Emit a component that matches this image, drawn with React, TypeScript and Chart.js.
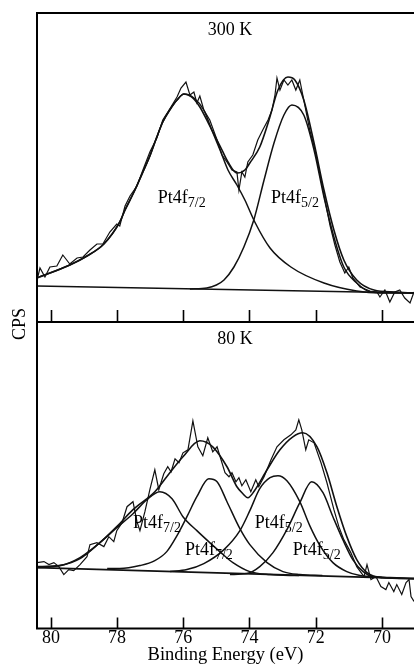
import React, { useEffect, useRef } from "react";
import { Chart, registerables } from "chart.js";

Chart.register(...registerables);

// ---------- axis ----------
const X_MIN = 69.03;
const X_MAX = 80.42;
const X_TICKS = [80, 78, 76, 74, 72, 70];

// ---------- 300 K panel ----------
const E_300_RAW = [80.42,80.33,80.18,80.03,79.82,79.64,79.43,79.21,79.03,78.82,78.61,78.43,78.22,78.01,77.92,77.76,77.61,77.40,77.22,77.01,76.80,76.62,76.41,76.19,76.07,75.92,75.80,75.68,75.59,75.50,75.38,75.20,74.98,74.83,74.68,74.53,74.38,74.32,74.23,74.14,74.05,73.90,73.75,73.60,73.44,73.32,73.23,73.17,73.08,72.96,72.84,72.72,72.60,72.48,72.33,72.18,72.02,71.87,71.72,71.57,71.42,71.27,71.12,71.00,70.88,70.66,70.36,70.15,70.06,69.91,69.76,69.61,69.46,69.31,69.15,69.03];
const CPS_300_RAW = [42,54,45,55,56,67,58,64,65,72,78,78,90,98,96,116,126,136,152,170,184,202,213,225,234,240,227,230,219,226,212,202,182,167,160,152,150,132,150,145,160,167,182,192,202,212,227,244,232,242,237,242,232,242,217,192,172,147,122,97,77,60,49,55,44,35,31,30,25,32,20,30,32,24,19,30];

const E_300_FIT = [80.42,79.43,78.91,78.40,77.92,77.76,77.49,77.22,77.01,76.80,76.62,76.41,76.19,75.98,75.75,75.50,75.20,74.89,74.65,74.38,74.14,73.99,73.69,73.41,73.14,72.84,72.63,72.36,72.05,71.75,71.45,71.15,70.76,70.24,69.60,69.03];
const CPS_300_FIT = [44,57,66,78,100,112,130,150,166,185,200,212,222,228,225,215,196,176,160,149,152,159,175,202,232,245,242,222,179,132,92,62,42,32,30,29];

const E_300_P72 = [80.42,79.43,78.91,78.40,77.92,77.76,77.49,77.22,77.01,76.80,76.62,76.41,76.19,75.98,75.68,75.38,75.14,74.89,74.65,74.38,74.14,73.84,73.38,72.75,71.75,70.76,70.06,69.03];
const CPS_300_P72 = [44,57,66,78,100,112,130,150,166,185,200,212,222,228,224,212,192,172,152,137,122,100,74,55,39,31,29,29];

const E_300_P52 = [75.8,75.29,75.0,74.77,74.47,74.17,73.87,73.56,73.26,72.96,72.72,72.36,72.05,71.75,71.45,71.15,70.76,70.33,69.9,69.03];
const CPS_300_P52 = [33,34,37,42,55,75,102,142,179,207,217,207,172,125,85,55,39,30,29.5,29];

const E_300_BASE = [80.42, 69.03];
const CPS_300_BASE = [36, 29];

// ---------- 80 K panel ----------
const E_80_RAW = [80.42,80.21,80.06,79.91,79.76,79.61,79.46,79.31,79.12,78.91,78.82,78.61,78.40,78.25,78.10,78.01,77.85,77.70,77.52,77.40,77.31,77.16,77.01,76.86,76.74,76.59,76.47,76.37,76.25,76.13,76.01,75.86,75.71,75.56,75.41,75.26,75.11,74.98,74.86,74.74,74.62,74.53,74.41,74.32,74.23,74.11,73.96,73.81,73.72,73.56,73.35,73.17,72.96,72.75,72.60,72.51,72.42,72.30,72.21,72.05,71.84,71.66,71.45,71.30,71.15,70.94,70.76,70.54,70.45,70.33,70.18,70.03,69.88,69.79,69.64,69.55,69.40,69.27,69.18,69.12,69.03];
const CPS_80_RAW = [66,67,64,66,62,54,59,58,64,72,84,86,82,92,87,98,106,122,127,107,98,117,139,159,139,155,162,157,170,166,176,179,208,182,173,191,177,182,169,156,152,156,147,151,143,149,137,149,142,152,169,182,189,194,199,209,199,179,189,186,166,146,119,102,89,76,62,52,64,49,52,42,39,46,37,44,34,46,49,32,27];

const E_80_FIT = [80.42,79.73,79.12,78.52,78.01,77.52,76.86,76.50,76.01,75.50,75.11,74.68,74.38,74.20,74.05,73.85,73.47,73.08,72.69,72.39,71.96,71.66,71.36,71.06,70.76,70.45,70.00,69.03];
const CPS_80_FIT = [62,63,71,86,102,119,137,152,172,188,182,162,142,135,131,138,159,179,192,196,182,156,122,92,69,56,51,50];

const E_80_P72A = [80.42,79.73,79.12,78.52,78.01,77.52,77.10,76.71,76.34,76.01,75.59,75.20,74.83,74.50,73.99,73.38,72.5];
const CPS_80_P72A = [61,63,70,86,101,115,129,137,130,112,98,86,75,66,57,54,53];

const E_80_P72B = [78.3,77.92,77.31,76.86,76.50,76.19,75.89,75.59,75.23,74.98,74.68,74.29,73.99,73.47,72.99,72.48,71.8];
const CPS_80_P72B = [60,60,63,68,77,93,112,132,150,147,127,100,84,66,57,54,53];

const E_80_P52A = [76.4,75.89,75.38,74.77,74.29,73.99,73.69,73.38,73.14,72.87,72.48,72.18,71.87,71.48,71.06,70.66,70.0];
const CPS_80_P52A = [57,59,65,79,98,118,140,151,153,148,127,103,83,66,57,53,51];

const E_80_P52B = [74.59,74.08,73.69,73.29,72.87,72.48,72.12,71.78,71.48,71.18,70.88,70.57,70.27,69.76,69.03];
const CPS_80_P52B = [54,55,62,76,99,126,147,136,112,89,69,57,52,51,50];

const E_80_BASE = [80.42, 69.03];
const CPS_80_BASE = [61, 50];

// ---------- annotations (data coordinates) ----------
const TOP_TITLE = { text: "300 K", x: 74.59, y: 292 };
const BOT_TITLE = { text: "80 K", x: 74.44, y: 290 };
const TOP_PEAK_LABELS = [
  { main: "Pt4f", sub: "7/2", x: 76.77, y: 119 },
  { main: "Pt4f", sub: "5/2", x: 73.35, y: 119 },
];
const BOT_PEAK_LABELS = [
  { main: "Pt4f", sub: "7/2", x: 77.52, y: 101 },
  { main: "Pt4f", sub: "7/2", x: 75.95, y: 74 },
  { main: "Pt4f", sub: "5/2", x: 73.84, y: 101 },
  { main: "Pt4f", sub: "5/2", x: 72.69, y: 74 },
];

const FONT = '"Liberation Serif", "Times New Roman", serif';
const INK = "#111";

const pts = (xs: number[], ys: number[]) => xs.map((x, i) => ({ x, y: ys[i] }));

const smooth = (xs: number[], ys: number[], w = 1.5) => ({
  data: pts(xs, ys),
  borderColor: INK,
  borderWidth: w,
  pointRadius: 0,
  cubicInterpolationMode: "monotone" as const,
  fill: false,
});
const jagged = (xs: number[], ys: number[]) => ({
  data: pts(xs, ys),
  borderColor: INK,
  borderWidth: 1.2,
  pointRadius: 0,
  tension: 0,
  fill: false,
});

function drawPeakLabel(ctx: CanvasRenderingContext2D, x: number, y: number, main: string, sub: string) {
  ctx.font = `18px ${FONT}`;
  ctx.textAlign = "left";
  ctx.textBaseline = "alphabetic";
  ctx.fillText(main, x, y);
  const w = ctx.measureText(main).width;
  ctx.font = `14px ${FONT}`;
  ctx.fillText(sub, x + w, y + 4);
}

function makeOverlay(opts: {
  top: boolean;
  tick: number;
  title: { text: string; x: number; y: number };
  labels: { main: string; sub: string; x: number; y: number }[];
  yId: string;
  cps: boolean;
}) {
  return {
    id: "overlay",
    afterDraw(chart: any) {
      const { ctx, chartArea: a, scales } = chart;
      const xs = scales.x;
      const ys = scales[opts.yId];
      ctx.save();
      ctx.strokeStyle = "#000";
      ctx.lineWidth = 2;
      ctx.beginPath();
      if (opts.top) {
        ctx.moveTo(a.left - 1, a.top);
        ctx.lineTo(a.right, a.top);
      }
      ctx.moveTo(a.left, a.top);
      ctx.lineTo(a.left, a.bottom + 1);
      ctx.moveTo(a.left - 1, a.bottom);
      ctx.lineTo(a.right, a.bottom);
      ctx.stroke();

      ctx.lineWidth = 1.6;
      ctx.beginPath();
      for (const t of X_TICKS) {
        const px = Math.round(xs.getPixelForValue(t)) + 0.5;
        ctx.moveTo(px, a.bottom);
        ctx.lineTo(px, a.bottom - opts.tick);
      }
      ctx.stroke();

      ctx.fillStyle = "#000";
      ctx.font = `18px ${FONT}`;
      ctx.textAlign = "center";
      ctx.textBaseline = "middle";
      ctx.fillText(opts.title.text, xs.getPixelForValue(opts.title.x), ys.getPixelForValue(opts.title.y));

      for (const l of opts.labels) {
        drawPeakLabel(ctx, xs.getPixelForValue(l.x), ys.getPixelForValue(l.y), l.main, l.sub);
      }

      if (opts.cps) {
        ctx.save();
        ctx.translate(a.left - 17, a.bottom + 2);
        ctx.rotate(-Math.PI / 2);
        ctx.font = `18px ${FONT}`;
        ctx.textAlign = "center";
        ctx.textBaseline = "middle";
        ctx.fillText("CPS", 0, 0);
        ctx.restore();
      }
      ctx.restore();
    },
  };
}

export default function App() {
  const topRef = useRef<HTMLCanvasElement | null>(null);
  const botRef = useRef<HTMLCanvasElement | null>(null);

  useEffect(() => {
    const topChart = new Chart(topRef.current as HTMLCanvasElement, {
      type: "line",
      data: {
        datasets: [
          { ...jagged(E_300_RAW, CPS_300_RAW), yAxisID: "y" },
          { ...smooth(E_300_FIT, CPS_300_FIT, 1.6), yAxisID: "y" },
          { ...smooth(E_300_P72, CPS_300_P72), yAxisID: "y" },
          { ...smooth(E_300_P52, CPS_300_P52), yAxisID: "y" },
          { ...smooth(E_300_BASE, CPS_300_BASE, 1.6), yAxisID: "y" },
        ],
      } as any,
      options: {
        responsive: false,
        animation: false,
        events: [],
        layout: { padding: { left: 37, top: 13, right: 0, bottom: 342 } },
        plugins: { legend: { display: false }, tooltip: { enabled: false } },
        scales: {
          x: { type: "linear", min: X_MIN, max: X_MAX, reverse: true, display: false },
          y: { type: "linear", min: 0, max: 309, display: false },
        },
      },
      plugins: [
        makeOverlay({ top: true, tick: 12, title: TOP_TITLE, labels: TOP_PEAK_LABELS, yId: "y", cps: true }),
      ],
    });

    const botChart = new Chart(botRef.current as HTMLCanvasElement, {
      type: "line",
      data: {
        datasets: [
          { ...jagged(E_80_RAW, CPS_80_RAW), yAxisID: "y" },
          { ...smooth(E_80_FIT, CPS_80_FIT, 1.6), yAxisID: "y" },
          { ...smooth(E_80_P72A, CPS_80_P72A), yAxisID: "y" },
          { ...smooth(E_80_P72B, CPS_80_P72B), yAxisID: "y" },
          { ...smooth(E_80_P52A, CPS_80_P52A), yAxisID: "y" },
          { ...smooth(E_80_P52B, CPS_80_P52B), yAxisID: "y" },
          { ...smooth(E_80_BASE, CPS_80_BASE, 1.6), yAxisID: "y" },
        ],
      } as any,
      options: {
        responsive: false,
        animation: false,
        events: [],
        layout: { padding: { left: 37, top: 322, right: 0, bottom: 0 } },
        plugins: { legend: { display: false }, tooltip: { enabled: false } },
        scales: {
          x: {
            type: "linear",
            min: X_MIN,
            max: X_MAX,
            reverse: true,
            afterBuildTicks: (scale: any) => {
              scale.ticks = X_TICKS.map((v) => ({ value: v }));
            },
            grid: { display: false, drawTicks: false },
            border: { display: false },
            ticks: {
              color: "#000",
              padding: 1,
              maxRotation: 0,
              autoSkip: false,
              font: { family: FONT, size: 18, lineHeight: 1 },
              callback: (v: any) => String(v),
            },
            title: {
              display: true,
              text: "Binding Energy (eV)",
              color: "#000",
              font: { family: FONT, size: 18.5, lineHeight: 1 },
              padding: { top: -3, bottom: 0 },
            },
          },
          y: { type: "linear", min: 0, max: 307, display: false },
        },
      },
      plugins: [
        makeOverlay({ top: false, tick: 11, title: BOT_TITLE, labels: BOT_PEAK_LABELS, yId: "y", cps: false }),
      ],
    });

    return () => {
      topChart.destroy();
      botChart.destroy();
    };
  }, []);

  return (
    <div style={{ position: "absolute", left: 0, top: 0, width: 414, height: 664, background: "#fff", overflow: "hidden" }}>
      <canvas ref={topRef} width={414} height={664} style={{ position: "absolute", left: 0, top: 0 }} />
      <canvas ref={botRef} width={414} height={664} style={{ position: "absolute", left: 0, top: 0 }} />
    </div>
  );
}
